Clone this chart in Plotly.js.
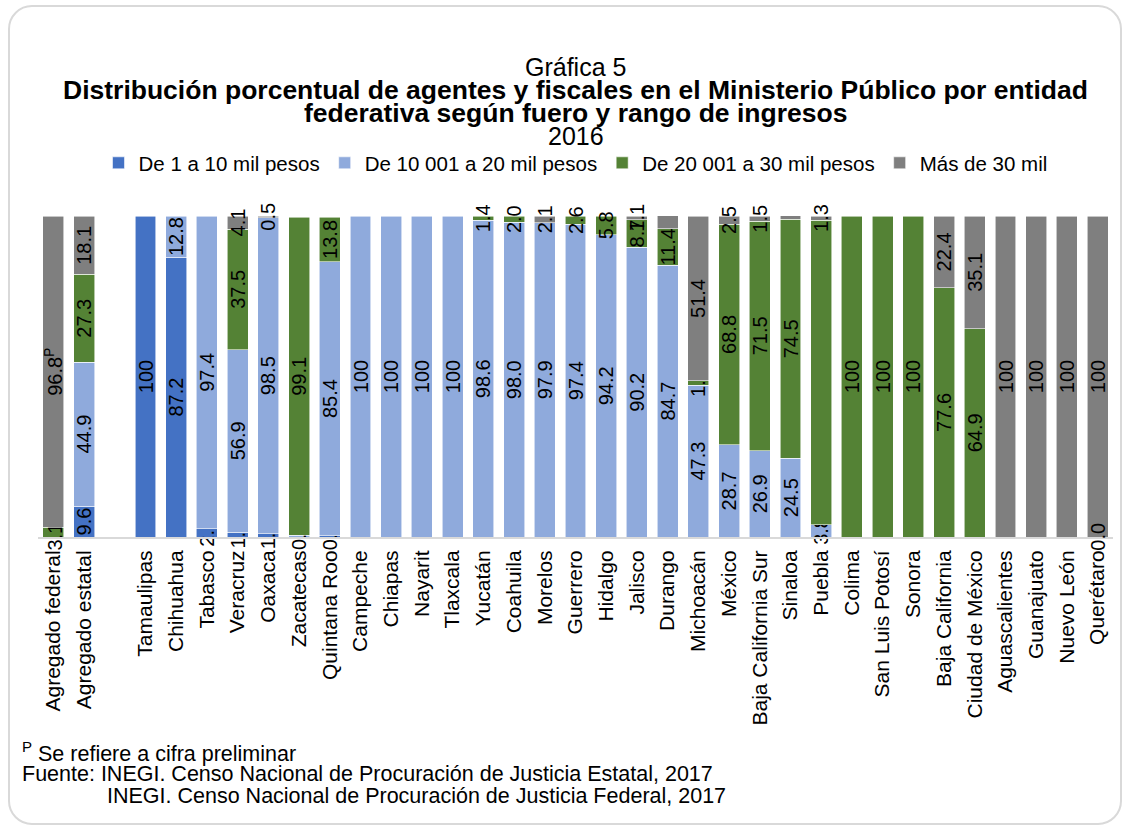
<!DOCTYPE html>
<html>
<head>
<meta charset="utf-8">
<script src="https://cdn.plot.ly/plotly-3.0.1.min.js"></script>
<style>
  html, body { margin: 0; padding: 0; background: #fff; }
  #wrap { position: relative; width: 1130px; height: 830px; }
  #chart { position: absolute; left: 0; top: 0; width: 1130px; height: 830px; }
  #frame { position: absolute; left: 8px; top: 5px; width: 1114px; height: 820px;
           border: 2px solid #d9d9d9; border-radius: 24px; pointer-events: none; box-sizing: border-box; }
</style>
</head>
<body>
<div id="wrap">
  <div id="chart"></div>
  <div id="frame"></div>
</div>
<script>
// Categories (a blank slot separates the aggregates from the states)
const categories = [
  "Agregado federal", "Agregado estatal", " ",
  "Tamaulipas", "Chihuahua", "Tabasco", "Veracruz", "Oaxaca", "Zacatecas", "Quintana Roo",
  "Campeche", "Chiapas", "Nayarit", "Tlaxcala", "Yucatán", "Coahuila", "Morelos", "Guerrero",
  "Hidalgo", "Jalisco", "Durango", "Michoacán", "México", "Baja California Sur", "Sinaloa",
  "Puebla", "Colima", "San Luis Potosí", "Sonora", "Baja California", "Ciudad de México",
  "Aguascalientes", "Guanajuato", "Nuevo León", "Querétaro"
];

const seriesNames = [
  "De 1 a 10 mil pesos",
  "De 10 001 a 20 mil pesos",
  "De 20 001 a 30 mil pesos",
  "Más de 30 mil"
];

// Series values (null = no segment)
const s1 = [null, 9.6, null,
  100, 87.2, 2.6, 1.5, 1.0, null, 0.4,
  null, null, null, null, null, null, null, null,
  null, null, null, null, null, null, null,
  null, null, null, null, null, null,
  null, null, null, 0];
const s2 = [null, 44.9, null,
  null, 12.8, 97.4, 56.9, 98.5, 0.5, 85.4,
  100, 100, 100, 100, 98.6, 98.0, 97.9, 97.4,
  94.2, 90.2, 84.7, 47.3, 28.7, 26.9, 24.5,
  3.8, null, null, null, null, null,
  null, null, null, null];
const s3 = [3.1, 27.3, null,
  null, null, null, 37.5, null, 99.1, 13.8,
  null, null, null, null, 1.4, 2.0, null, 2.6,
  5.8, 8.7, 11.4, 1.3, 68.8, 71.5, 74.5,
  94.9, 100, 100, 100, 77.6, 64.9,
  null, null, null, null];
const s4 = [96.8, 18.1, null,
  null, null, null, 4.1, 0.5, null, null,
  null, null, null, null, null, null, 2.1, null,
  null, 1.1, 4.0, 51.4, 2.5, 1.5, 1.1,
  1.3, null, null, null, 22.4, 35.1,
  100, 100, 100, 100];

// Preliminary-figure marks and labels not shown in the original
const preliminary = ["Agregado federal"];
const hiddenLabels = [{series: 2, category: "Puebla"}];

const colors = ["#4472C4", "#8FAADC", "#548235", "#7F7F7F"];
const allSeries = [s1, s2, s3, s4];

function fmt(v) { return v === 100 ? "100" : v.toFixed(1); }

const FONT = "Liberation Sans, Arial, sans-serif";

const traces = allSeries.map((vals, si) => {
  const text = vals.map((v, i) => {
    if (v === null) return "";
    if (hiddenLabels.some(h => h.series === si && h.category === categories[i])) return "";
    let t = fmt(v);
    if (preliminary.includes(categories[i])) t += "<sup>P</sup>";
    return t;
  });
  return {
    type: "bar",
    name: seriesNames[si],
    x: categories,
    y: vals,
    text: text,
    textposition: "inside",
    insidetextanchor: "middle",
    textangle: -90,
    constraintext: "none",
    cliponaxis: false,
    textfont: {family: FONT, size: 20, color: "#000"},
    marker: {color: colors[si], line: {color: "rgba(255,255,255,0.7)", width: 0.8}},
    hoverinfo: "x+y+name"
  };
});

// zero-valued labels (bars of zero height carry no inner text)
const zeroAnnotations = [];
allSeries.forEach((vals, si) => {
  vals.forEach((v, i) => {
    if (v === 0) {
      zeroAnnotations.push({
        x: categories[i], y: 0, xref: "x", yref: "y",
        text: fmt(v), showarrow: false, textangle: -90,
        font: {family: FONT, size: 20, color: "#000"},
        xanchor: "center", yanchor: "middle"
      });
    }
  });
});

const plotTop = 216, plotBottom = 537;
function py(Y) { return (plotBottom - Y) / (plotBottom - plotTop); }

const titleAnnotations = [
  {text: "Gráfica 5", y: 67, size: 25},
  {text: "<b>Distribución porcentual de agentes y fiscales en el Ministerio Público por entidad</b>", y: 90, size: 26.5},
  {text: "<b>federativa según fuero y rango de ingresos</b>", y: 113, size: 26.5},
  {text: "2016", y: 136, size: 25}
].map(a => ({
  text: a.text, x: 0.5, xref: "paper", y: py(a.y), yref: "paper",
  xanchor: "center", yanchor: "middle", showarrow: false,
  font: {family: FONT, size: a.size, color: "#000"}
}));

const footFont = {family: FONT, size: 21.5, color: "#000"};
const footAnnotations = [
  {text: "<sup>P</sup> Se refiere a cifra preliminar", x: 20, y: 752},
  {text: "Fuente: INEGI. Censo Nacional de Procuración de Justicia Estatal, 2017", x: 20, y: 774},
  {text: "INEGI. Censo Nacional de Procuración de Justicia Federal, 2017", x: 105, y: 796}
].map(a => ({
  text: a.text, x: (a.x - 38) / 1075.5, xref: "paper", y: py(a.y), yref: "paper",
  xanchor: "left", yanchor: "middle", showarrow: false, font: footFont
}));

const layout = {
  width: 1130, height: 830,
  margin: {l: 38, r: 16.5, t: plotTop, b: 830 - plotBottom},
  paper_bgcolor: "rgba(0,0,0,0)",
  plot_bgcolor: "rgba(0,0,0,0)",
  barmode: "stack",
  bargap: 0.317,
  showlegend: true,
  legend: {
    orientation: "h", x: 0.5, xanchor: "center", y: py(163), yanchor: "middle",
    font: {family: FONT, size: 20.5, color: "#000"},
    traceorder: "normal", itemclick: false
  },
  xaxis: {
    type: "category",
    tickangle: -90,
    tickfont: {family: FONT, size: 21, color: "#000"},
    ticklabelstandoff: 3,
    showline: true, linecolor: "#d9d9d9", linewidth: 2,
    ticks: "", showgrid: false, zeroline: false, fixedrange: true
  },
  yaxis: {
    range: [0, 100], visible: false, showgrid: false, zeroline: false, fixedrange: true
  },
  annotations: titleAnnotations.concat(footAnnotations, zeroAnnotations)
};

Plotly.newPlot("chart", traces, layout, {displayModeBar: false, staticPlot: true});
</script>
</body>
</html>
